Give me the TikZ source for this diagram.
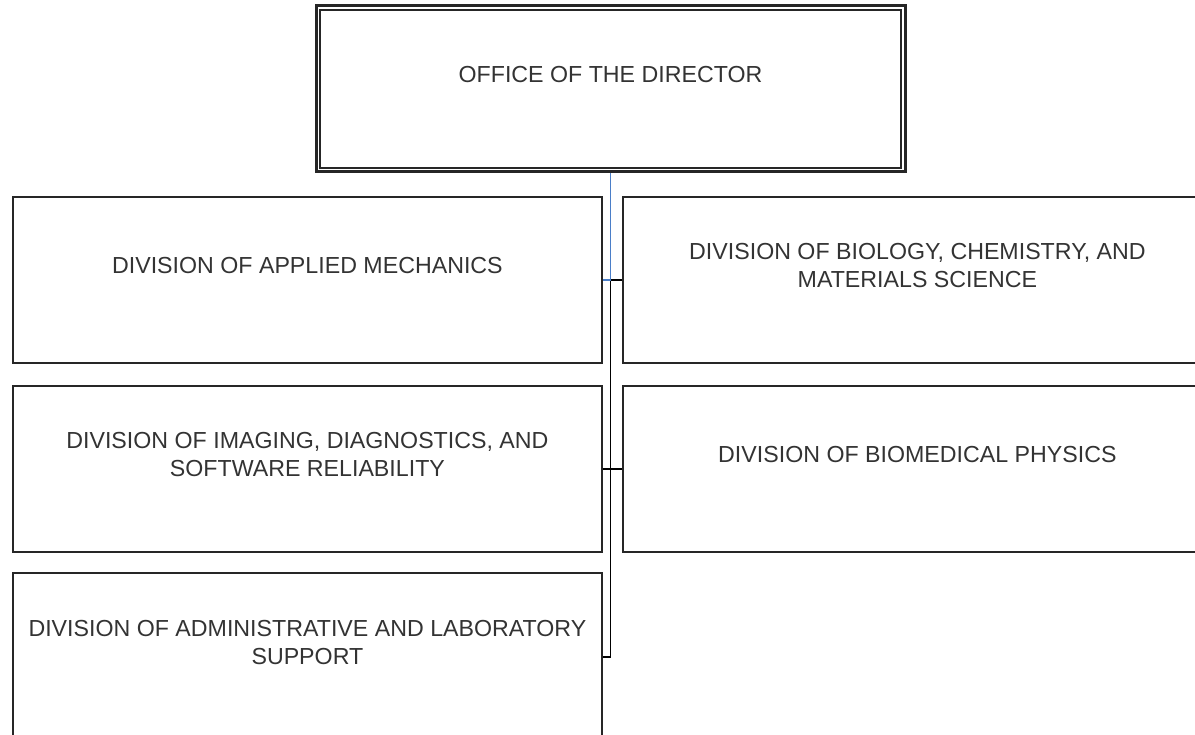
\documentclass[tikz,border=0pt]{standalone}
\usepackage{fontspec}
\setmainfont{Liberation Sans}
\definecolor{boxcol}{HTML}{262626}
\definecolor{txtcol}{HTML}{333333}
\definecolor{bluecol}{HTML}{4A7EC8}
\begin{document}
\begin{tikzpicture}[x=1pt,y=-1pt,
  divbox/.style={draw=boxcol, line width=1.8pt, minimum width=589pt, minimum height=166pt, inner sep=0pt, anchor=north west},
  lbl/.style={text=txtcol, align=center, inner sep=0pt, font=\fontsize{23.2}{28}\selectfont},
  conn/.style={draw=black, line width=1.5pt},
  bconn/.style={draw=bluecol, line width=1.5pt}]
\useasboundingbox (0,0) rectangle (1195,735);
\clip (0,0) rectangle (1195,735);
\fill[white] (0,0) rectangle (1195,735);
% director box (double frame)
\node[draw=boxcol, line width=3pt, minimum width=589pt, minimum height=166pt, inner sep=0pt] (dir) at (610.5,89) {};
\draw[boxcol, line width=1.8pt] ([shift={(5.5pt,-5.5pt)}]dir.north west) rectangle ([shift={(-5.5pt,5.5pt)}]dir.south east);
% division boxes
\node[divbox] (am) at (12,196) {};
\node[divbox] (bc) at (622,196) {};
\node[divbox] (id) at (12,385) {};
\node[divbox] (bp) at (622,385) {};
\node[divbox, minimum height=168pt] (al) at (12,572) {};
% labels
\node[lbl] (dirt) at ([yshift=14pt]dir.center) {OFFICE OF THE DIRECTOR};
\node[lbl] (amt) at ([yshift=14pt]am.center) {DIVISION OF APPLIED MECHANICS};
\node[lbl] (bct) at ([yshift=14pt]bc.center) {DIVISION OF BIOLOGY, CHEMISTRY, AND\\MATERIALS SCIENCE};
\node[lbl] (idt) at ([yshift=14pt]id.center) {DIVISION OF IMAGING, DIAGNOSTICS, AND\\SOFTWARE RELIABILITY};
\node[lbl] (bpt) at ([yshift=14pt]bp.center) {DIVISION OF BIOMEDICAL PHYSICS};
\node[lbl] (alt) at ([yshift=14pt]al.center) {DIVISION OF ADMINISTRATIVE AND LABORATORY\\SUPPORT};
% connectors
\coordinate (j1) at (dir.south |- am.east);
\coordinate (j3) at (dir.south |- al.east);
\draw[conn] (j1) -- (bc.west);
\draw[conn] (j1) -- (j3) -- (al.east);
\draw[conn] (id.east) -- (bp.west);
\draw[bconn] (dir.south) -- (j1) -- (am.east);
\end{tikzpicture}
\end{document}
